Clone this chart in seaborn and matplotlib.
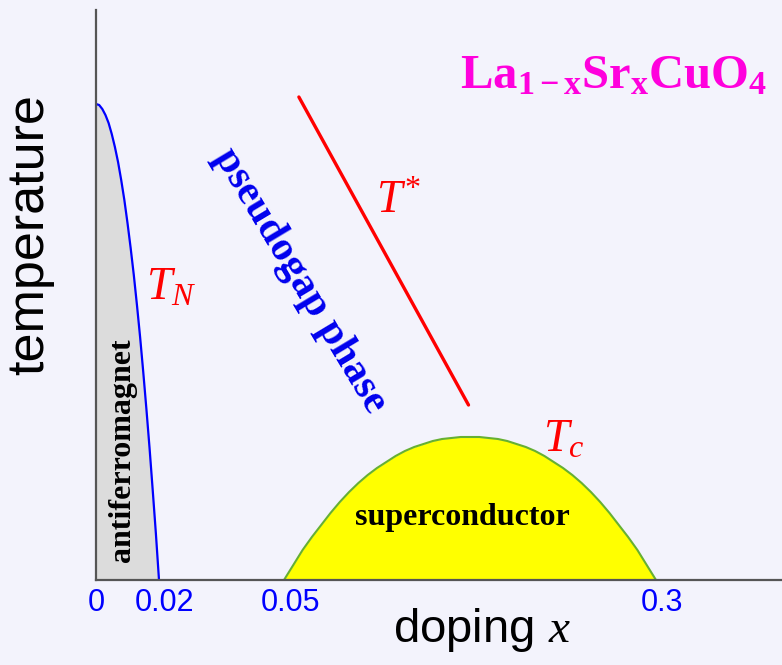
import numpy as np
import pandas as pd
import matplotlib
matplotlib.use("Agg")
import matplotlib.pyplot as plt
import matplotlib.transforms as mtransforms
import seaborn as sns

# ---- data (schematic, arbitrary temperature units) ----
tick_doping = [0.0, 0.02, 0.05, 0.3]
tick_labels = ["0", "0.02", "0.05", "0.3"]

# Neel temperature T_N (antiferromagnet boundary)
tn_doping = [0.0, 0.001, 0.002, 0.003, 0.004, 0.005, 0.006, 0.007, 0.008, 0.009, 0.010,
             0.011, 0.012, 0.013, 0.014, 0.015, 0.016, 0.017, 0.018, 0.019, 0.020]
tn_temp = [476, 475, 471, 465, 457, 446, 433, 418, 400, 380, 357,
           332, 305, 275, 243, 208, 171, 132, 90, 47, 0]

# Superconducting dome T_c
tc_doping = [0.05, 0.05625, 0.0625, 0.06875, 0.075, 0.08125, 0.0875, 0.09375, 0.10, 0.10625,
             0.1125, 0.11875, 0.125, 0.13125, 0.1375, 0.14375, 0.15, 0.15625, 0.1625, 0.16875,
             0.175, 0.18125, 0.1875, 0.19375, 0.20, 0.20625, 0.2125, 0.21875, 0.225, 0.23125,
             0.2375, 0.24375, 0.25, 0.25625, 0.2625, 0.26875, 0.275, 0.28125, 0.2875, 0.29375, 0.30]
tc_temp = [0, 15, 30, 43, 55, 67, 78, 88, 97, 105,
           112, 118, 124, 129, 133, 136, 139, 141, 142, 143,
           143, 143, 142, 141, 139, 136, 133, 129, 124, 118,
           112, 105, 97, 88, 78, 67, 55, 43, 30, 15, 0]

# Pseudogap crossover T*
tstar_doping = [0.060, 0.174]
tstar_temp = [483, 175]

# ---- style ----
sns.set_theme(style="white")
bg = "#f3f3fc"
plt.rcParams["font.family"] = ["Liberation Sans", "DejaVu Sans"]
plt.rcParams["mathtext.fontset"] = "custom"
plt.rcParams["mathtext.rm"] = "Liberation Serif"
plt.rcParams["mathtext.it"] = "Liberation Serif:italic"
plt.rcParams["mathtext.bf"] = "Liberation Serif:bold"

W, H = 782, 665
fig = plt.figure(figsize=(W / 100, H / 100), dpi=100, facecolor=bg)
ax = fig.add_axes([96 / W, 85 / H, 686 / W, 570 / H], facecolor=bg)

# schematic (piecewise linear) doping axis
_bx = [0.0, 0.02, 0.05, 0.3, 0.385]
_bp = [0.0, 63.0, 188.0, 560.0, 686.0]
def _fwd(x):
    return np.interp(x, _bx, _bp)
def _inv(p):
    return np.interp(p, _bp, _bx)
ax.set_xscale("function", functions=(_fwd, _inv))
ax.set_xlim(0, 0.385)
ax.set_ylim(0, 570)

df_tn = pd.DataFrame({"doping": tn_doping, "T": tn_temp})
df_tc = pd.DataFrame({"doping": tc_doping, "T": tc_temp})
df_ts = pd.DataFrame({"doping": tstar_doping, "T": tstar_temp})

ax.fill_between(df_tn["doping"], 0, df_tn["T"], color="#dcdcdc", lw=0, zorder=1)
ax.fill_between(df_tc["doping"], 0, df_tc["T"], color="#ffff00", lw=0, zorder=1)
sns.lineplot(data=df_tn, x="doping", y="T", ax=ax, color="#0000ff", lw=1.6, zorder=3)
sns.lineplot(data=df_tc, x="doping", y="T", ax=ax, color="#66b032", lw=1.5, zorder=3)
sns.lineplot(data=df_ts, x="doping", y="T", ax=ax, color="#ff0000", lw=2.4, zorder=3)

# axes styling
for s in ["top", "right"]:
    ax.spines[s].set_visible(False)
for s in ["left", "bottom"]:
    ax.spines[s].set_color("#555555")
    ax.spines[s].set_linewidth(1.6)
    ax.spines[s].set_zorder(4)
ax.set_yticks([])
ax.set_xticks(tick_doping)
ax.set_xticklabels(tick_labels)
ax.tick_params(axis="x", length=0, pad=6, labelsize=22, labelcolor="#0000ff")
ax.minorticks_off()
for i, lab in enumerate(ax.get_xticklabels()):
    if i > 0:
        lab.set_transform(lab.get_transform() +
                          mtransforms.ScaledTranslation(6 / 100, 0, fig.dpi_scale_trans))

ax.set_xlabel(r"doping $x$", fontsize=34, color="black", va="center")
ax.xaxis.set_label_coords((482 - 96) / 686, (580 - 630) / 570)
ax.set_ylabel("temperature", fontsize=37.5, color="black", va="center")
ax.yaxis.set_label_coords((30 - 96) / 686, (580 - 235) / 570)

def ftxt(px, py, s, **kw):
    fig.text(px / W, 1 - py / H, s, **kw)

serif = ["Liberation Serif", "DejaVu Serif"]
ftxt(460, 88, r"$\mathbf{La_{1-x}Sr_xCuO_4}$", fontsize=35, color="#ff00dd",
     ha="left", va="baseline")
ftxt(300, 281, "pseudogap phase", fontsize=30, color="#0000ee", family=serif,
     fontweight="bold", rotation=-59, rotation_mode="anchor", ha="center", va="center")
ftxt(122, 450, "antiferromagnet", fontsize=23, color="black", family=serif,
     fontweight="bold", rotation=90, ha="center", va="center")
ftxt(462, 517, "superconductor", fontsize=23, color="black", family=serif,
     fontweight="bold", ha="center", va="center")
ftxt(146, 300, r"$T_N$", fontsize=33, color="#ff0000", ha="left", va="baseline")
ftxt(376, 213, r"$T^{*}$", fontsize=33, color="#ff0000", ha="left", va="baseline")
ftxt(543, 452, r"$T_c$", fontsize=33, color="#ff0000", ha="left", va="baseline")

fig.savefig("out.png", dpi=100, facecolor=bg)
